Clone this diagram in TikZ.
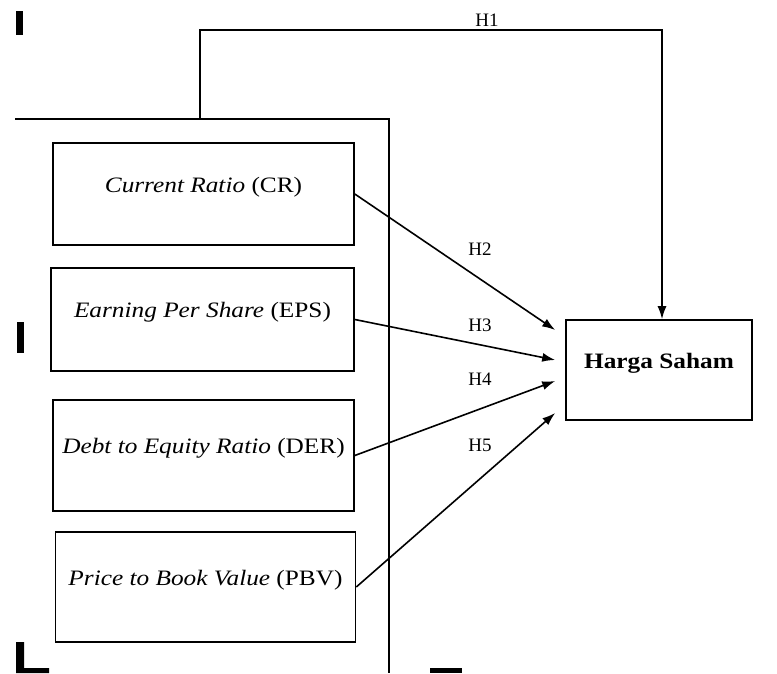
\documentclass[tikz,border=0pt]{standalone}
\usepackage{fontspec}
\setmainfont[FakeStretch=1.15]{Liberation Serif}
\newfontfamily\hypfont{Liberation Serif}
\usetikzlibrary{arrows.meta}
\tikzset{
  varbox/.style={draw,line width=1.6pt,inner sep=0pt,text height=16pt,text depth=19.5pt,
    font=\fontsize{22}{26}\selectfont},
  hyp/.style={inner sep=0pt,font=\hypfont\fontsize{19}{22}\selectfont},
}
\begin{document}
\begin{tikzpicture}[x=1pt,y=-1pt,line width=1.6pt,>={Latex[length=13pt,width=9pt]}]
  \useasboundingbox (0,0) rectangle (777,673);
  \fill (16,11) rectangle (23,35);
  \fill (17,322) rectangle (24,353);
  \fill (16,642) -- (24,642) -- (24,668) -- (49,668) -- (49,673) -- (16,673) -- cycle;
  \fill (430,668) rectangle (462,673);
  \draw (15,119) -- (389,119) -- (389,673);
  \node[varbox,minimum width=301pt,minimum height=102pt] (cr) at (203.5,194) {\textit{Current Ratio} (CR)};
  \node[varbox,minimum width=303pt,minimum height=103pt] (eps) at (202.5,319.5) {\textit{Earning Per Share} (EPS)};
  \node[varbox,minimum width=301pt,minimum height=111pt] (der) at (203.5,455.5) {\textit{Debt to Equity Ratio} (DER)};
  \node[varbox,minimum width=300pt,minimum height=110pt] (pbv) at (205.5,587) {\textit{Price to Book Value} (PBV)};
  \node[varbox,minimum width=186pt,minimum height=100pt] (hs) at (659,370) {\textbf{Harga Saham}};
  \coordinate (fr) at (200,119);
  \coordinate (h1) at (200,30);
  \draw[->] (fr) -- (h1) -| ([xshift=3pt]hs.north);
  \foreach \src/\dy in {cr/40,eps/10,der/-11,pbv/-43}
    \draw[->] (\src.east) -- ([xshift=-10pt,yshift=\dy pt]hs.west);
  \node[hyp] (l1) at (487,20) {H1};
  \node[hyp] (l2) at (480,249) {H2};
  \node[hyp] (l3) at (480,325) {H3};
  \node[hyp] (l4) at (480,379) {H4};
  \node[hyp] (l5) at (480,445) {H5};
\end{tikzpicture}
\end{document}
